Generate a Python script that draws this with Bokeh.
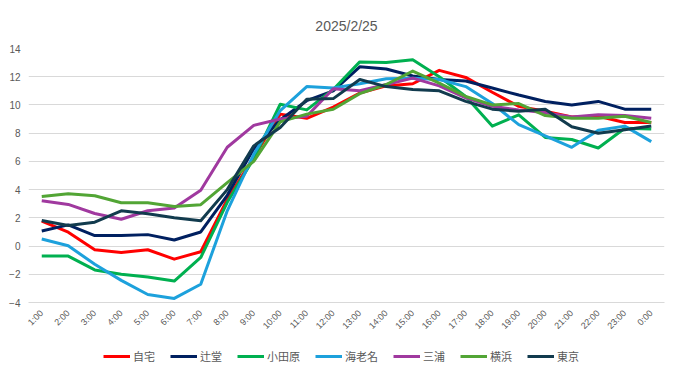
import math
from bokeh.plotting import figure
from bokeh.layouts import column
from bokeh.models import Range1d, FactorRange, FixedTicker, Legend, LegendItem
from bokeh.embed import file_html
from bokeh.resources import INLINE

hours = ["1:00", "2:00", "3:00", "4:00", "5:00", "6:00", "7:00", "8:00", "9:00", "10:00",
         "11:00", "12:00", "13:00", "14:00", "15:00", "16:00", "17:00", "18:00", "19:00",
         "20:00", "21:00", "22:00", "23:00", "0:00"]

jitaku = [1.76, 0.98, -0.26, -0.45, -0.26, -0.93, -0.4, 3.3, 6.3, 9.35, 9.05, 9.85,
          10.85, 11.35, 11.5, 12.45, 11.95, 10.9, 9.9, 9.55, 9.15, 9.2, 8.75, 8.75]
tsujido = [1.07, 1.5, 0.74, 0.74, 0.81, 0.43, 1.0, 3.6, 6.9, 8.95, 10.3, 11.0,
           12.7, 12.55, 12.05, 11.8, 11.7, 11.2, 10.7, 10.25, 10.0, 10.25, 9.7, 9.7]
odawara = [-0.71, -0.71, -1.69, -2.0, -2.19, -2.48, -0.81, 3.1, 6.2, 10.05, 9.65, 11.1,
           13.05, 13.0, 13.2, 12.0, 10.6, 8.5, 9.3, 7.7, 7.55, 6.95, 8.35, 8.3]
ebina = [0.5, 0.02, -1.29, -2.43, -3.43, -3.71, -2.71, 2.5, 6.5, 9.6, 11.3, 11.2,
         11.5, 11.85, 11.9, 11.8, 11.3, 10.1, 8.6, 7.8, 7.0, 8.2, 8.5, 7.4]
miura = [3.21, 2.95, 2.31, 1.9, 2.5, 2.69, 3.95, 7.0, 8.55, 9.0, 9.2, 11.15,
         11.0, 11.45, 11.9, 11.35, 10.5, 9.9, 9.65, 9.45, 9.15, 9.3, 9.25, 9.05]
yokohama = [3.52, 3.71, 3.57, 3.07, 3.07, 2.81, 2.93, 4.5, 6.0, 8.8, 9.35, 9.7,
            10.8, 11.45, 12.4, 11.55, 10.6, 10.0, 10.1, 9.25, 9.05, 9.05, 9.2, 8.75]
tokyo = [1.81, 1.45, 1.69, 2.5, 2.29, 2.0, 1.79, 4.0, 7.1, 8.4, 10.4, 10.45,
         11.8, 11.3, 11.1, 11.0, 10.25, 9.7, 9.55, 9.7, 8.45, 8.0, 8.25, 8.5]

series_names = ["自宅", "辻堂", "小田原", "海老名", "三浦", "横浜", "東京"]
series_values = [jitaku, tsujido, odawara, ebina, miura, yokohama, tokyo]
series_colors = ["#FF0000", "#002060", "#00B050", "#1DA1DC", "#A0399F", "#52A535", "#123B4E"]
y_ticks = [-4, -2, 0, 2, 4, 6, 8, 10, 12, 14]

# main chart
p = figure(width=668, height=340, x_range=FactorRange(*hours), y_range=Range1d(-4, 14),
           output_backend="svg", toolbar_location=None,
           min_border_left=28, min_border_right=4, min_border_top=48, min_border_bottom=38)
p.title.text = "2025/2/25"
p.title.align = "center"
p.title.text_font = "Liberation Sans"
p.title.text_font_size = "14px"
p.title.text_font_style = "normal"
p.title.text_color = "#595959"
p.title.standoff = 30
p.outline_line_color = None

p.yaxis.ticker = FixedTicker(ticks=y_ticks)
p.yaxis.axis_line_color = None
p.yaxis.major_tick_line_color = None
p.yaxis.major_tick_out = 0
p.yaxis.major_tick_in = 0
p.yaxis.minor_tick_line_color = None
p.yaxis.major_label_text_font = "Liberation Sans"
p.yaxis.major_label_text_font_size = "10px"
p.yaxis.major_label_text_color = "#595959"
p.yaxis.major_label_standoff = 8

p.xaxis.axis_line_color = "#d9d9d9"
p.xaxis.major_tick_line_color = None
p.xaxis.major_tick_out = 0
p.xaxis.major_tick_in = 0
p.xaxis.minor_tick_line_color = None
p.xaxis.major_label_orientation = math.pi / 4
p.xaxis.major_label_text_font = "Liberation Sans"
p.xaxis.major_label_text_font_size = "9px"
p.xaxis.major_label_text_color = "#595959"
p.xaxis.major_label_standoff = 9

p.xgrid.grid_line_color = None
p.ygrid.grid_line_color = "#d9d9d9"
p.ygrid.grid_line_width = 1

for name, vals, col in zip(series_names, series_values, series_colors):
    p.line(hours, vals, line_color=col, line_width=3, line_join="round")

# legend strip below the chart (same series drawn out of view, only the legend shows)
lg = figure(width=658, height=32, x_range=FactorRange(*hours), y_range=Range1d(100, 101),
            output_backend="svg", toolbar_location=None,
            min_border_left=0, min_border_right=0, min_border_top=0, min_border_bottom=0)
lg.axis.visible = False
lg.grid.visible = False
lg.outline_line_color = None
items = []
for name, vals, col in zip(series_names, series_values, series_colors):
    r = lg.line(hours, vals, line_color=col, line_width=3)
    items.append(LegendItem(label=name, renderers=[r]))

legend = Legend(items=items, orientation="horizontal", location="center",
                label_text_font="Noto Sans CJK JP", label_text_font_size="11px",
                label_text_color="#595959", glyph_width=27, glyph_height=12,
                label_standoff=3, spacing=15, border_line_color=None,
                background_fill_alpha=0, padding=0, margin=0)
lg.add_layout(legend, "center")

layout = column(p, lg, spacing=0)
open("out.html", "w").write(file_html(layout, INLINE))
